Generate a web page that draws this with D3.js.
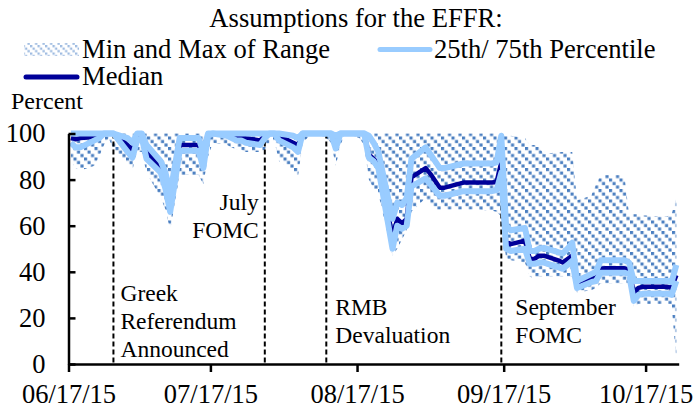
<!DOCTYPE html>
<html>
<head>
<meta charset="utf-8">
<script src="https://cdn.jsdelivr.net/npm/d3@7"></script>
<style>
body { margin: 0; background: #fff; }
svg text { font-family: "Liberation Serif", "Times New Roman", serif; fill: #000; }
</style>
</head>
<body>
<svg id="chart" width="696" height="410"></svg>
<script>
// business days shown in the chart
var dates = [
    "2015-06-17","2015-06-18","2015-06-19","2015-06-22","2015-06-23","2015-06-24","2015-06-25","2015-06-26","2015-06-29","2015-06-30",
    "2015-07-01","2015-07-02","2015-07-03","2015-07-06","2015-07-07","2015-07-08","2015-07-09","2015-07-10","2015-07-13","2015-07-14",
    "2015-07-15","2015-07-16","2015-07-17","2015-07-20","2015-07-21","2015-07-22","2015-07-23","2015-07-24","2015-07-27","2015-07-28",
    "2015-07-29","2015-07-30","2015-07-31","2015-08-03","2015-08-04","2015-08-05","2015-08-06","2015-08-07","2015-08-10","2015-08-11",
    "2015-08-12","2015-08-13","2015-08-14","2015-08-17","2015-08-18","2015-08-19","2015-08-20","2015-08-21","2015-08-24","2015-08-25",
    "2015-08-26","2015-08-27","2015-08-28","2015-08-31","2015-09-01","2015-09-02","2015-09-03","2015-09-04","2015-09-08","2015-09-09",
    "2015-09-10","2015-09-11","2015-09-14","2015-09-15","2015-09-16","2015-09-17","2015-09-18","2015-09-21","2015-09-22","2015-09-23",
    "2015-09-24","2015-09-25","2015-09-28","2015-09-29","2015-09-30","2015-10-01","2015-10-02","2015-10-05","2015-10-06","2015-10-07",
    "2015-10-08","2015-10-09","2015-10-12","2015-10-13","2015-10-14","2015-10-15","2015-10-16","2015-10-19","2015-10-20","2015-10-21",
    "2015-10-22","2015-10-23"
];

var minVals = [
    88,85,84,86,90,95,98,93,86,84,
    92,92,83,72,67,58,70,82,82,82,
    78,90,96,95,94,93,93,92,92,93,
    96,97,88,84,81,96,98,100,98,96,
    86,95,100,98,95,80,76,74,47,50,
    54,58,66,72,69,67,67,67,67,67,
    67,67,66.5,66,64,46,45,44,38,37,
    38,38,38,38,38,38,31,32,33,35,
    35,35,35,35,25,26,26,26,26,26,
    26,1
];
var maxVals = [
    100,100,100,100,100,100,100,100,100,100,
    100,100,100,100,100,100,100,100,100,100,
    100,100,100,100,100,100,100,100,100,100,
    100,100,100,100,100,100,100,100,100,100,
    100,100,100,100,100,100,100,100,100,100,
    100,100,100,100,100,100,100,100,100,100,
    100,100,100,100,100,99,99,98,95,95,
    94,91,92,92,92,92,71,73,78,82,
    82,82,82,65,65,65,64.5,64,64,64,
    65,72
];
var p25Vals = [
    96,94,94,97,98,100,100,100,92,89.5,
    97,98,89,83,76,66,79,92.5,92.5,92.5,
    85,99,100,99,98,97,97,96,95,98,
    100,100,97,94,92,100,100,100,100,100,
    93.5,100,100,100,100,89.5,88,85,50,60,
    58.7,60,77,80.5,78,75.5,73,73,75,75,
    75,75,75,75.5,83,50,49,50,43.5,43.5,
    44,44,42,41.3,43,44.8,33,35.5,36,39.6,
    39.6,39.6,39.6,39,27.4,30,30.5,30.5,30.5,30.5,
    30,36
];
var medVals = [
    98,97.5,98,98.5,100,100,100,100,95,93,
    98.5,99,92,85.5,80,70,82.5,95,95,95,
    89,100,100,100,100,99,98.5,98,97,99,
    100,100,99,96,95,100,100,100,100,100,
    97,100,100,100,100,91,89,87,55,63,
    61,63,81,85,82.5,79.5,76.5,76.5,78.7,78.7,
    78.7,78.7,78.7,79,87.5,53,52,53.5,45.6,45.6,
    47,47,45,44,45.5,47,34.8,37,37.4,41.3,
    41.5,41.5,41.5,41,31,33,33.5,33.5,33.5,33.5,
    33,38.5
];
var p75Vals = [
    100,100,100,100,100,100,100,100,98,96,
    100,100,95,88,83,74,86,98,98,98,
    92,100,100,100,100,100,100,100,100,100,
    100,100,100,99,98,100,100,100,100,100,
    99,100,100,100,100,99,96,92,63,70,
    69,72,89,94,91,88,85,85,87,87,
    87,87,87,87.5,99,60,58,59,49,49,
    50,50.4,48.5,48,50,52.6,36,39,40,45,
    45,45,45,44,36,36,36,36,36,36,
    35.5,43
];

var xTicks = ["2015-06-17","2015-07-17","2015-08-17","2015-09-17","2015-10-17"];
var yTicks = [0,20,40,60,80,100];

var events = [
    {date: "2015-06-26", label: ["Greek","Referendum","Announced"]},
    {date: "2015-07-28", label: ["July","FOMC"]},
    {date: "2015-08-10", label: ["RMB","Devaluation"]},
    {date: "2015-09-16", label: ["September","FOMC"]}
];

var TITLE = "Assumptions for the EFFR:";
var LEGEND = ["Min and Max of Range", "25th/ 75th Percentile", "Median"];

//颜色
var HATCH = "#4A7EC0", LIGHT = "#99CCFF", NAVY = "#000099";
var FONT = "'Liberation Serif', 'Times New Roman', serif";

var parse = d3.timeParse("%Y-%m-%d");
// Excel puts each day's point in the middle of the day
var mid = d => d3.timeHour.offset(parse(d), 12);

var svg = d3.select("#chart");

var x = d3.scaleTime()
    .domain([parse("2015-06-17"), parse("2015-10-24")])
    .range([68.5, 678.7]);
var y = d3.scaleLinear()
    .domain([0, 100])
    .range([364, 133.5]);

var rows = dates.map((d, i) => ({
    date: mid(d), min: minVals[i], max: maxVals[i],
    p25: p25Vals[i], med: medVals[i], p75: p75Vals[i]
}));

// hatch pattern: dotted downward diagonals
var defs = svg.append("defs");
function hatch(id, color, tile, size) {
    var p = defs.append("pattern")
        .attr("id", id)
        .attr("patternUnits", "userSpaceOnUse")
        .attr("width", tile).attr("height", tile);
    [0, 1, 2].forEach(k => {
        p.append("rect").attr("x", k * tile / 3).attr("y", k * tile / 3)
            .attr("width", size).attr("height", size)
            .attr("fill", color);
    });
}
hatch("hatch", HATCH, 10.5, 3.1);
hatch("hatchLegend", "#9DBAE0", 7.5, 2.3);

// range area
var area = d3.area()
    .x(d => x(d.date))
    .y0(d => y(d.min))
    .y1(d => y(d.max));
svg.append("path")
    .datum(rows)
    .attr("d", area)
    .attr("fill", "url(#hatch)");

// event markers
var ev = svg.append("g").attr("class", "events");
ev.selectAll("line")
    .data(events)
    .enter()
    .append("line")
    .attr("x1", d => x(mid(d.date)))
    .attr("x2", d => x(mid(d.date)))
    .attr("y1", y(100))
    .attr("y2", y(0))
    .attr("stroke", "#000")
    .attr("stroke-width", 2)
    .attr("stroke-dasharray", "5,3");

// label placement: dx from the marker, anchor, first baseline
var labelPos = [
    {dx: 7, anchor: "start", top: 300.5},
    {dx: -6, anchor: "end", top: 210},
    {dx: 9, anchor: "start", top: 315},
    {dx: 14, anchor: "start", top: 315}
];
events.forEach(function (e, i) {
    var pos = labelPos[i];
    var t = ev.append("text")
        .attr("x", x(mid(e.date)) + pos.dx)
        .attr("y", pos.top)
        .attr("text-anchor", pos.anchor)
        .style("font-size", "23.5px");
    e.label.forEach((s, j) => {
        t.append("tspan")
            .attr("x", x(mid(e.date)) + pos.dx)
            .attr("y", pos.top + j * 28.3)
            .text(s);
    });
});

// lines
function line(key) {
    return d3.line().x(d => x(d.date)).y(d => y(d[key]));
}
svg.append("path").datum(rows).attr("d", line("med"))
    .attr("fill", "none").attr("stroke", NAVY).attr("stroke-width", 4.5)
    .attr("stroke-linejoin", "round");
["p25", "p75"].forEach(k => {
    svg.append("path").datum(rows).attr("d", line(k))
        .attr("fill", "none").attr("stroke", LIGHT).attr("stroke-width", 6)
        .attr("stroke-linejoin", "round");
});

// axes
var xAxis = svg.append("g")
    .attr("transform", "translate(0," + y(0) + ")")
    .call(d3.axisBottom(x)
        .tickValues(xTicks.map(parse))
        .tickFormat(d3.timeFormat("%m/%d/%y"))
        .tickSize(8)
        .tickSizeOuter(0)
        .tickPadding(12.5));
var yAxis = svg.append("g")
    .attr("transform", "translate(" + x.range()[0] + ",0)")
    .call(d3.axisLeft(y)
        .tickValues(yTicks)
        .tickSize(-7)
        .tickSizeOuter(0)
        .tickPadding(23));
[xAxis, yAxis].forEach(a => {
    a.attr("font-family", FONT).attr("font-size", 26.5);
    a.select(".domain").attr("stroke", "#000").attr("stroke-width", 2.5);
    a.selectAll(".tick line").attr("stroke", "#000").attr("stroke-width", 2.5);
    a.selectAll(".tick text").attr("fill", "#000");
});

// title, legend, unit
svg.append("text")
    .attr("x", 356).attr("y", 27)
    .attr("text-anchor", "middle")
    .style("font-size", "26.6px")
    .text(TITLE);

var lg = svg.append("g").attr("class", "legend").style("font-size", "26.6px");
lg.append("rect")
    .attr("x", 24).attr("y", 43).attr("width", 55).attr("height", 13)
    .attr("fill", "url(#hatchLegend)");
lg.append("text").attr("x", 82).attr("y", 58).text(LEGEND[0]);
lg.append("line")
    .attr("x1", 380).attr("x2", 430).attr("y1", 49.5).attr("y2", 49.5)
    .attr("stroke", LIGHT).attr("stroke-width", 5).attr("stroke-linecap", "round");
lg.append("text").attr("x", 434).attr("y", 58).text(LEGEND[1]);
lg.append("line")
    .attr("x1", 26).attr("x2", 77).attr("y1", 77).attr("y2", 77)
    .attr("stroke", NAVY).attr("stroke-width", 5).attr("stroke-linecap", "round");
lg.append("text").attr("x", 82).attr("y", 85).text(LEGEND[2]);

svg.append("text")
    .attr("x", 11).attr("y", 109)
    .style("font-size", "24px")
    .text("Percent");
</script>
</body>
</html>
